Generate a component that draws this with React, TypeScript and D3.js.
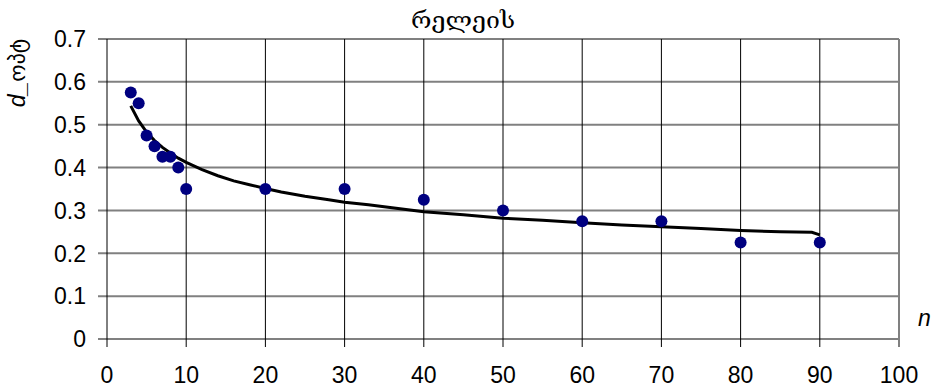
import React, { useEffect, useRef } from "react";
import * as d3 from "d3";

// measured points
const nValues = [3, 4, 5, 6, 7, 8, 9, 10, 20, 30, 40, 50, 60, 70, 80, 90];
const dValues = [0.575, 0.55, 0.475, 0.45, 0.425, 0.425, 0.4, 0.35, 0.35, 0.35, 0.325, 0.3, 0.275, 0.275, 0.225, 0.225];

// fitted curve
const trendN = [3, 4, 5, 6, 7, 8, 9, 10, 12, 14, 16, 18, 20, 22, 25, 28, 30, 33, 36, 40, 45, 50, 55, 60, 65, 70, 75, 80, 85, 89, 90];
const trendD = [0.544, 0.509, 0.483, 0.463, 0.447, 0.434, 0.422, 0.412, 0.395, 0.381, 0.369, 0.36, 0.351, 0.343, 0.333, 0.325, 0.319, 0.313, 0.306, 0.297, 0.29, 0.282, 0.277, 0.271, 0.266, 0.262, 0.258, 0.253, 0.25, 0.249, 0.243];

const xTicks = [0, 10, 20, 30, 40, 50, 60, 70, 80, 90, 100];
const yTicks = [0, 0.1, 0.2, 0.3, 0.4, 0.5, 0.6, 0.7];

const title = "რელეის";
const font = "'Liberation Sans', Arial, sans-serif";

const App = () => {
  const ref = useRef<SVGSVGElement>(null);
  const width = 934;
  const height = 392;
  const margin = { left: 107, right: 35, top: 39, bottom: 53 };

  useEffect(() => {
    const svg = d3.select(ref.current);
    svg.selectAll("*").remove();

    const x = d3.scaleLinear().domain([0, 100]).range([margin.left, width - margin.right]);
    const y = d3.scaleLinear().domain([0, 0.7]).range([height - margin.bottom, margin.top]);

    svg.append("rect").attr("width", width).attr("height", height).attr("fill", "#fff");

    // horizontal grid (gray)
    svg
      .append("g")
      .selectAll("line")
      .data(yTicks)
      .enter()
      .append("line")
      .attr("x1", margin.left - 9)
      .attr("x2", x(100))
      .attr("y1", (d) => y(d))
      .attr("y2", (d) => y(d))
      .attr("stroke", "#808080")
      .attr("stroke-width", 2);

    // vertical grid (black)
    svg
      .append("g")
      .selectAll("line")
      .data(xTicks)
      .enter()
      .append("line")
      .attr("x1", (d) => x(d))
      .attr("x2", (d) => x(d))
      .attr("y1", y(0.7))
      .attr("y2", y(0) + 8)
      .attr("stroke", (d) => (d === 100 ? "#808080" : "#000"))
      .attr("stroke-width", (d) => (d === 100 ? 2 : 1));

    // y labels
    svg
      .append("g")
      .selectAll("text")
      .data(yTicks)
      .enter()
      .append("text")
      .attr("x", 86)
      .attr("y", (d) => y(d))
      .attr("dy", "0.36em")
      .attr("text-anchor", "end")
      .attr("font-family", font)
      .attr("font-size", 23)
      .text((d) => (d === 0 ? "0" : d3.format(".1f")(d)));

    // x labels
    svg
      .append("g")
      .selectAll("text")
      .data(xTicks)
      .enter()
      .append("text")
      .attr("x", (d) => x(d))
      .attr("y", 383)
      .attr("text-anchor", "middle")
      .attr("font-family", font)
      .attr("font-size", 23)
      .text((d) => d);

    // trend line
    const line = d3
      .line<number>()
      .x((d, i) => x(trendN[i]))
      .y((d) => y(d));
    svg
      .append("path")
      .datum(trendD)
      .attr("d", line)
      .attr("fill", "none")
      .attr("stroke", "#000")
      .attr("stroke-width", 3);

    // points
    svg
      .append("g")
      .selectAll("circle")
      .data(dValues)
      .enter()
      .append("circle")
      .attr("cx", (d, i) => x(nValues[i]))
      .attr("cy", (d) => y(d))
      .attr("r", 6)
      .attr("fill", "#000080");

    // title
    svg
      .append("text")
      .attr("x", 463)
      .attr("y", 28)
      .attr("text-anchor", "middle")
      .attr("font-family", "'DejaVu Serif', serif")
      .attr("font-size", 22)
      .attr("textLength", 104)
      .attr("lengthAdjust", "spacingAndGlyphs")
      .text(title);

    // y axis label
    const yl = svg
      .append("text")
      .attr("transform", "translate(25,73) rotate(-90)")
      .attr("text-anchor", "middle")
      .attr("font-family", font)
      .attr("font-size", 23);
    yl.append("tspan").attr("font-style", "italic").text("d_");
    yl.append("tspan").attr("font-family", "'DejaVu Sans', sans-serif").attr("font-size", 22).text("ოპტ");

    // x axis label
    svg
      .append("text")
      .attr("x", 918)
      .attr("y", 326)
      .attr("font-family", font)
      .attr("font-style", "italic")
      .attr("font-size", 23)
      .text("n");
  }, []);

  return (
    <svg
      ref={ref}
      width={width}
      height={height}
      style={{ position: "absolute", left: 0, top: 0 }}
    />
  );
};

export default App;
